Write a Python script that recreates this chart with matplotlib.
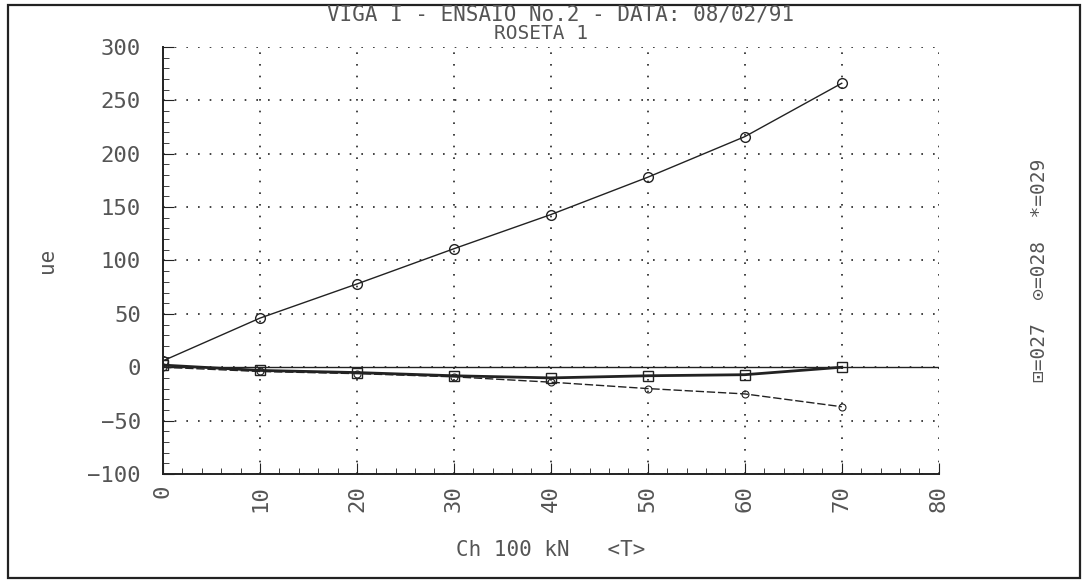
"""VIGA I - ensaio No.2 - roseta 1 (strain vs load)"""

from matplotlib import pyplot as plt
from matplotlib.patches import Rectangle

load = [0, 10, 20, 30, 40, 50, 60, 70]
gauge_029 = [6, 46, 78, 111, 143, 178, 216, 266]
gauge_028 = [2, -3, -5, -8, -10, -8, -7, 0]
gauge_027 = [0, -4, -6, -9, -14, -20, -25, -37]

x_ticks = [0, 10, 20, 30, 40, 50, 60, 70, 80]
y_ticks = [-100, -50, 0, 50, 100, 150, 200, 250, 300]

plt.rcParams["font.family"] = ["DejaVu Sans Mono", "DejaVu Sans"]
ink = "#222222"
txt = "#555555"

fig = plt.figure(figsize=(10.88, 5.82), dpi=100)
ax = fig.add_axes([0.1498, 0.1856, 0.713, 0.7337])

# outer frame of the plotter sheet
fig.patches.append(Rectangle((0.007, 0.007), 0.986, 0.984, transform=fig.transFigure,
                             fill=False, lw=1.6, ec=ink))

ax.plot(load, gauge_029, color=ink, lw=1.0, marker="o", ms=7, mfc="none", mec=ink, mew=1.0)
ax.plot(load, gauge_028, color=ink, lw=2.0, marker="s", ms=7, mfc="none", mec=ink, mew=1.0)
ax.plot(load, gauge_027, color=ink, lw=1.0, ls=(0, (6, 2)), marker="o", ms=5,
        mfc="none", mec=ink, mew=0.8)
ax.axhline(0, color=ink, lw=1.0)

ax.set_xlim(0, 80)
ax.set_ylim(-100, 300)
ax.set_xticks(x_ticks)
ax.set_yticks(y_ticks)
ax.set_xticks(range(0, 81, 2), minor=True)
ax.set_yticks(range(-100, 301, 10), minor=True)
ax.tick_params(axis="both", which="major", direction="in", length=8, color=ink,
               labelsize=16, labelcolor=txt, pad=8)
ax.tick_params(axis="y", which="major", pad=16)
ax.tick_params(axis="both", which="minor", direction="in", length=4, color=ink)
ax.tick_params(axis="x", labelrotation=90)
ax.grid(True, which="major", ls=(0, (1, 6)), color=ink, lw=1.2)

for side in ("top", "right"):
    ax.spines[side].set_visible(False)
for side in ("left", "bottom"):
    ax.spines[side].set_color(ink)
    ax.spines[side].set_linewidth(1.4)

ax.set_xlabel("Ch 100 kN   <T>", fontsize=15, color=txt, labelpad=20)
ax.set_ylabel("ue", fontsize=15, color=txt, labelpad=22)

fig.text(0.515, 0.975, "VIGA I - ENSAIO No.2 - DATA: 08/02/91", ha="center", va="center",
         fontsize=15, color=txt)
fig.text(0.497, 0.942, "ROSETA 1", ha="center", va="center", fontsize=14, color=txt)
fig.text(0.955, 0.535, "\u22a1=027  \u2299=028  *=029", rotation=90, ha="center", va="center",
         fontsize=14, color=txt)

fig.savefig("out.png", dpi=100)
